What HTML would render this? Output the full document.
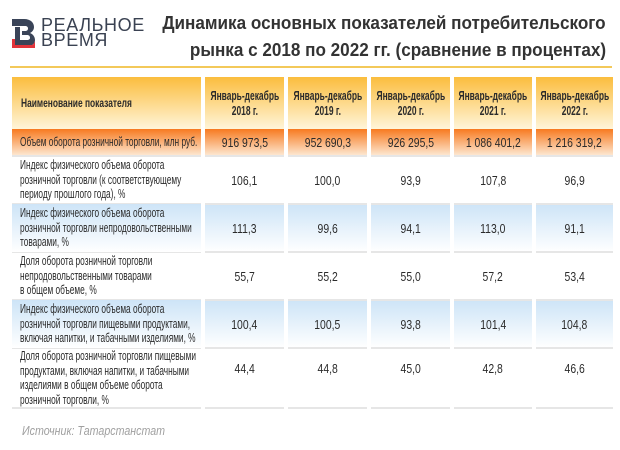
<!DOCTYPE html>
<html><head><meta charset="utf-8"><style>
*{margin:0;padding:0;box-sizing:border-box}
body{width:620px;height:450px;background:#fff;position:relative;overflow:hidden;font-family:"Liberation Sans","DejaVu Sans",sans-serif;color:#2b2b2b}
.a{position:absolute}
.c{position:absolute;display:flex;align-items:center}
.t{display:inline-block;font-size:12.5px;line-height:14.5px;transform:scaleX(0.665);transform-origin:left center;white-space:nowrap}
.v{font-size:13px;justify-content:center}
.v span{transform:scaleX(0.8);display:inline-block}
.h span{font-weight:bold;font-size:13px;line-height:15px;text-align:center;transform:scaleX(0.65);display:inline-block;white-space:nowrap}
.sep{position:absolute;height:2px;background:#e6e6e6}
.tl{display:inline-block;transform:scaleX(0.95);transform-origin:right center;white-space:nowrap}
</style></head><body>
<svg class="a" style="left:12px;top:19px" width="24" height="29" viewBox="0 0 24 29">
<path d="M0 0H12C19 0 22 4 22 8C22 11 20 13 18 14C21 15 23 18 23 21C23 23 22 25 20 26L3 26V8H8V21H15C17 21 18 20 18 19C18 17 17 16 15 16H10V12H13C15 12 16 11 16 9.5C16 8 15 7 13 7H0Z" fill="#3a4458"/>
<path d="M0 20H3V26H20C22 25 23 23 23 21L23 29H0Z" fill="#e3343a"/>
</svg>
<div class="a" style="left:41px;top:18px;font-size:18px;line-height:15px;color:#3a4252;letter-spacing:0.6px">РЕАЛЬНОЕ<br>ВРЕМЯ</div>
<div class="a" style="left:100px;top:10px;width:506px;text-align:right;font-size:18px;line-height:27px;font-weight:bold;color:#333">
<div><span class="tl">Динамика основных показателей потребительского</span></div>
<div><span class="tl">рынка с 2018 по 2022 гг. (сравнение в процентах)</span></div>
</div>
<div class="a" style="left:10px;top:66px;width:602px;height:2px;background:#f3c95a"></div>

<div class="c" style="left:12px;top:77px;width:189px;height:52px;background:linear-gradient(#fbbd3e,#fff5da);padding-left:9px"><span class="t" style="font-weight:bold;font-size:12px;transform:scaleX(0.7)">Наименование показателя</span></div>
<div class="c h v" style="left:205px;top:77px;width:79px;height:52px;background:linear-gradient(#fbbd3e,#fff5da)"><span>Январь-декабрь<br>2018 г.</span></div>
<div class="c h v" style="left:288px;top:77px;width:79px;height:52px;background:linear-gradient(#fbbd3e,#fff5da)"><span>Январь-декабрь<br>2019 г.</span></div>
<div class="c h v" style="left:371px;top:77px;width:79px;height:52px;background:linear-gradient(#fbbd3e,#fff5da)"><span>Январь-декабрь<br>2020 г.</span></div>
<div class="c h v" style="left:454px;top:77px;width:78px;height:52px;background:linear-gradient(#fbbd3e,#fff5da)"><span>Январь-декабрь<br>2021 г.</span></div>
<div class="c h v" style="left:536px;top:77px;width:77px;height:52px;background:linear-gradient(#fbbd3e,#fff5da)"><span>Январь-декабрь<br>2022 г.</span></div>

<div class="c" style="left:12px;top:129px;width:189px;height:26px;background:linear-gradient(#f77a20,#fde6cf);padding-left:8px"><span class="t">Объем оборота розничной торговли, млн руб.</span></div>
<div class="c v" style="left:205px;top:129px;width:79px;height:26px;background:linear-gradient(#f77a20,#fde6cf)"><span>916 973,5</span></div>
<div class="c v" style="left:288px;top:129px;width:79px;height:26px;background:linear-gradient(#f77a20,#fde6cf)"><span>952 690,3</span></div>
<div class="c v" style="left:371px;top:129px;width:79px;height:26px;background:linear-gradient(#f77a20,#fde6cf)"><span>926 295,5</span></div>
<div class="c v" style="left:454px;top:129px;width:78px;height:26px;background:linear-gradient(#f77a20,#fde6cf)"><span>1 086 401,2</span></div>
<div class="c v" style="left:536px;top:129px;width:77px;height:26px;background:linear-gradient(#f77a20,#fde6cf)"><span>1 216 319,2</span></div>

<div id="rows"></div>
<div class="c" style="left:12px;top:156px;width:189px;height:48px;padding-left:8px"><span class="t">Индекс физического объема оборота<br>розничной торговли (к соответствующему<br>периоду прошлого года), %</span></div>
<div class="c" style="left:12px;top:204px;width:189px;height:48px;padding-left:8px;background:linear-gradient(#cde4f7,#fff)"><span class="t">Индекс физического объема оборота<br>розничной торговли непродовольственными<br>товарами, %</span></div>
<div class="c" style="left:12px;top:252px;width:189px;height:48px;padding-left:8px"><span class="t">Доля оборота розничной торговли<br>непродовольственными товарами<br>в общем объеме, %</span></div>
<div class="c" style="left:12px;top:300px;width:189px;height:48px;padding-left:8px;background:linear-gradient(#cde4f7,#fff)"><span class="t">Индекс физического объема оборота<br>розничной торговли пищевыми продуктами,<br>включая напитки, и табачными изделиями, %</span></div>
<div class="c" style="left:12px;top:348px;width:189px;height:60px;padding-left:8px"><span class="t">Доля оборота розничной торговли пищевыми<br>продуктами, включая напитки, и табачными<br>изделиями в общем объеме оборота<br>розничной торговли, %</span></div>

<script>
var cols=[[205,79],[288,79],[371,79],[454,78],[536,77]];
var rows=[[156,48,0,["106,1","100,0","93,9","107,8","96,9"]],
[204,48,1,["111,3","99,6","94,1","113,0","91,1"]],
[252,48,0,["55,7","55,2","55,0","57,2","53,4"]],
[300,48,1,["100,4","100,5","93,8","101,4","104,8"]],
[348,60,0,["44,4","44,8","45,0","42,8","46,6"]]];
var h="";
rows.forEach(function(r,ri){
 cols.forEach(function(c,i){
  h+='<div class="c v" style="left:'+c[0]+'px;top:'+r[0]+'px;width:'+c[1]+'px;height:'+(ri==4?40:r[1])+'px;'+(r[2]?'background:linear-gradient(#cde4f7,#fff)':'')+'"><span>'+r[3][i]+'</span></div>';
 });
});
[155,203,251,299,347,407].forEach(function(y){
 h+='<div class="sep" style="left:12px;top:'+y+'px;width:189px"></div>';
 cols.forEach(function(c){h+='<div class="sep" style="left:'+c[0]+'px;top:'+y+'px;width:'+c[1]+'px"></div>';});
});
document.getElementById("rows").outerHTML=h;
</script>
<div class="a" style="left:22px;top:423px;font-size:13px;font-style:italic;color:#a0a0a0;transform:scaleX(0.82);transform-origin:left">Источник: Татарстанстат</div>
</body></html>
